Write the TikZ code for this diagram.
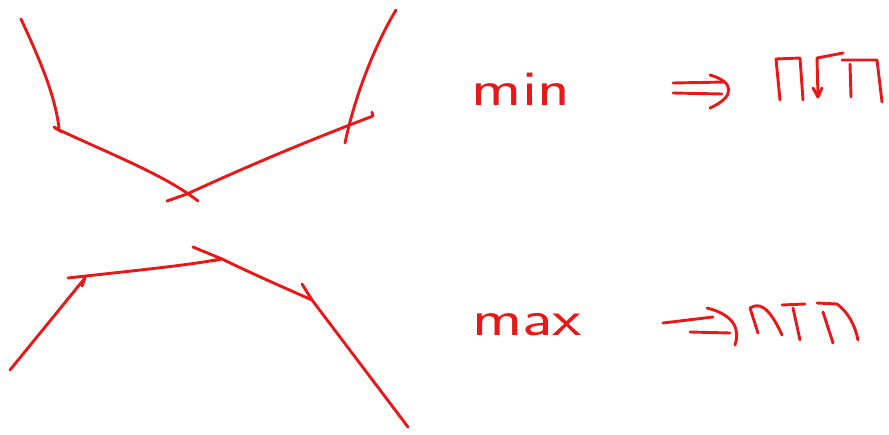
\documentclass[tikz,border=0pt]{standalone}
\usepackage{tikz}
\usetikzlibrary{positioning}
\definecolor{sketchred}{RGB}{232,24,24}

\begin{document}
\begin{tikzpicture}[
  x=1pt, y=-1pt,
  ink/.style={draw=sketchred, line width=2.9pt, line cap=round, line join=round},
  word/.style={text=sketchred, font=\fontsize{50}{52}\selectfont\sffamily, inner sep=0pt, xscale=1.35}
]
\useasboundingbox (0,0) rectangle (889,434);

% upper sketch (minimum)
\draw[ink] (21,19) .. controls (40,60) and (55,95) .. (59,128);
\draw[ink] (54,127) -- (62,132);
\draw[ink] (55,128) .. controls (110,154) and (165,175) .. (198,201);
\draw[ink] (167,201) -- (187,194) .. controls (250,165) and (310,140) .. (373,116) -- (372,112);
\draw[ink] (396,10) .. controls (375,45) and (355,95) .. (345,143);

% lower sketch (maximum)
\draw[ink] (10,370) -- (85,278);
\draw[ink] (85,278) -- (82,286);
\draw[ink] (68,278) -- (86,276) .. controls (140,270) and (190,265) .. (221,259);
\draw[ink] (212,261) -- (221,259);
\draw[ink] (193,247) -- (222,259) .. controls (255,275) and (285,288) .. (312,300) -- (408,427);
\draw[ink] (302,284) -- (312,300);

% labels
\node[word] (min) at (521,89) {min};
\node[word] (max) at (527,325) {max};

% right-hand arrows and signs
\draw[ink] (673,83) -- (725,82);
\draw[ink] (673,93) -- (722,94);
\draw[ink] (710,75) .. controls (735,82) and (735,97) .. (710,108);

\draw[ink] (780,100) -- (776,59) -- (800,58) -- (803,100);
\draw[ink] (818,97) -- (817,58) -- (843,53);
\draw[ink] (813,88) -- (818,97) -- (822,88);
\draw[ink] (842,60) -- (877,60) -- (882,102);
\draw[ink] (850,64) -- (851,97);

\draw[ink] (663,323) -- (713,317);
\draw[ink] (690,332) -- (730,333);
\draw[ink] (707,308) .. controls (735,315) and (740,330) .. (735,345);

\draw[ink] (758,333) -- (750,308) .. controls (758,303) and (768,304) .. (782,335);
\draw[ink] (782,305) -- (805,304);
\draw[ink] (793,308) -- (800,340);
\draw[ink] (817,303) -- (837,304) .. controls (848,312) and (855,325) .. (858,340);
\draw[ink] (823,312) -- (833,343);
\end{tikzpicture}
\end{document}
